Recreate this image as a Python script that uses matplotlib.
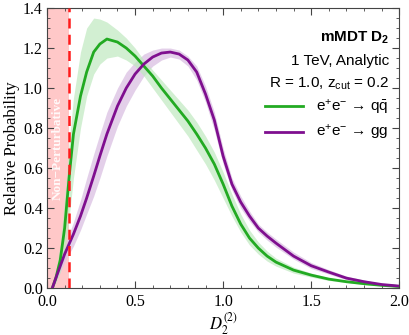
import numpy as np
import matplotlib
matplotlib.use("Agg")
import matplotlib.pyplot as plt
from matplotlib.ticker import MultipleLocator, FormatStrFormatter

plt.rcParams['mathtext.fontset'] = 'custom'
plt.rcParams['mathtext.rm'] = 'Liberation Sans'
plt.rcParams['mathtext.it'] = 'Liberation Sans:italic'
plt.rcParams['mathtext.bf'] = 'Liberation Sans:bold'

# data
x = [0.03, 0.05, 0.075, 0.1, 0.125, 0.15, 0.19, 0.225, 0.265, 0.3, 0.34, 0.4, 0.45,
     0.5, 0.55, 0.6, 0.65, 0.7, 0.75, 0.8, 0.85, 0.9, 0.95, 1.0, 1.05, 1.1, 1.15,
     1.2, 1.25, 1.3, 1.4, 1.5, 1.6, 1.7, 1.8, 1.9, 2.0]

qq_mid = [0.0, 0.05, 0.14, 0.3, 0.55, 0.77, 0.96, 1.08, 1.18, 1.22, 1.245, 1.23, 1.2,
          1.16, 1.11, 1.06, 1.0, 0.945, 0.89, 0.835, 0.77, 0.70, 0.62, 0.52, 0.41, 0.32, 0.25,
          0.2, 0.16, 0.13, 0.09, 0.065, 0.045, 0.032, 0.022, 0.014, 0.008]
qq_hi = [0.0, 0.08, 0.22, 0.45, 0.72, 0.95, 1.18, 1.3, 1.35, 1.345, 1.33, 1.29, 1.25,
         1.2, 1.14, 1.09, 1.04, 0.99, 0.94, 0.89, 0.83, 0.76, 0.68, 0.58, 0.47, 0.37, 0.29,
         0.23, 0.185, 0.15, 0.105, 0.075, 0.052, 0.037, 0.026, 0.017, 0.01]
qq_lo = [0.0, 0.03, 0.08, 0.18, 0.35, 0.55, 0.8, 0.96, 1.07, 1.12, 1.15, 1.16, 1.14,
         1.11, 1.06, 1.0, 0.94, 0.88, 0.82, 0.76, 0.69, 0.62, 0.54, 0.45, 0.36, 0.28, 0.215,
         0.17, 0.135, 0.11, 0.075, 0.055, 0.038, 0.027, 0.018, 0.011, 0.006]

gg_mid = [0.0, 0.05, 0.11, 0.17, 0.22, 0.27, 0.36, 0.45, 0.56, 0.66, 0.77, 0.91, 1.0,
          1.07, 1.12, 1.155, 1.175, 1.18, 1.17, 1.14, 1.08, 0.97, 0.84, 0.66, 0.52, 0.43, 0.36,
          0.3, 0.26, 0.225, 0.16, 0.112, 0.08, 0.05, 0.032, 0.018, 0.01]
gg_hi = [0.0, 0.07, 0.14, 0.21, 0.27, 0.33, 0.44, 0.55, 0.67, 0.77, 0.88, 1.0, 1.08,
         1.13, 1.17, 1.19, 1.2, 1.2, 1.19, 1.16, 1.11, 1.01, 0.88, 0.70, 0.55, 0.46, 0.385,
         0.32, 0.28, 0.245, 0.18, 0.128, 0.092, 0.06, 0.04, 0.023, 0.012]
gg_lo = [0.0, 0.03, 0.08, 0.13, 0.17, 0.21, 0.29, 0.37, 0.46, 0.55, 0.66, 0.81, 0.91,
         0.99, 1.06, 1.11, 1.14, 1.155, 1.145, 1.11, 1.04, 0.93, 0.79, 0.62, 0.49, 0.40, 0.335,
         0.28, 0.24, 0.205, 0.145, 0.098, 0.07, 0.042, 0.026, 0.014, 0.008]

np_cut = 0.125

green = '#22aa22'
purple = '#7f0f8f'

fig = plt.figure(figsize=(4.09, 3.35), dpi=100)
ax = fig.add_axes([0.115, 0.140, 0.861, 0.836])

ax.axvspan(0, np_cut, color='#ffc8c8', lw=0, zorder=0)
ax.axvline(np_cut, color='#ff1a1a', ls=(0, (4, 2.5)), lw=1.8, zorder=5)

ax.fill_between(x, gg_lo, gg_hi, color='#dcc4e4', lw=0, alpha=0.8, zorder=1)
ax.fill_between(x, qq_lo, qq_hi, color='#bfe9bf', lw=0, alpha=0.7, zorder=1)
ax.plot(x, qq_mid, color=green, lw=2, zorder=3, label='e$^{+}$e$^{-}$ \u2192 q$\\mathregular{\\bar{q}}$')
ax.plot(x, gg_mid, color=purple, lw=2, zorder=3, label='e$^{+}$e$^{-}$ \u2192 gg')

ax.text(0.062, 0.70, 'Non\u2212Perturbative', rotation=90, color='white', alpha=0.9,
        ha='center', va='center', family='Liberation Serif', fontsize=9.5, fontweight='bold',
        zorder=4)

ax.set_xlim(0, 2.0)
ax.set_ylim(0, 1.4)
ax.xaxis.set_major_locator(MultipleLocator(0.5))
ax.xaxis.set_minor_locator(MultipleLocator(0.1))
ax.yaxis.set_major_locator(MultipleLocator(0.2))
ax.yaxis.set_minor_locator(MultipleLocator(0.05))
ax.xaxis.set_major_formatter(FormatStrFormatter('%.1f'))
ax.yaxis.set_major_formatter(FormatStrFormatter('%.1f'))
ax.tick_params(which='both', direction='in', top=True, right=True, color='#444444')
ax.tick_params(which='major', length=5, labelsize=11.5)
ax.tick_params(axis='x', which='major', pad=4)
ax.tick_params(axis='y', which='major', pad=3)
ax.tick_params(which='minor', length=2.5)
for lab in ax.get_xticklabels() + ax.get_yticklabels():
    lab.set_family('Liberation Serif')
for s in ax.spines.values():
    s.set_color('#444444')

ax.set_ylabel('Relative Probability', family='Liberation Serif', fontsize=12, labelpad=2)
ax.set_xlabel(r'$D_2^{(2)}$', fontsize=12, math_fontfamily='stix', labelpad=0)

ax.text(0.972, 0.895, r'$\mathbf{mMDT\ D_2}$', transform=ax.transAxes, ha='right', va='center',
        fontsize=11, family='Liberation Sans')
ax.text(0.972, 0.812, '1 TeV, Analytic', transform=ax.transAxes, ha='right', va='center',
        fontsize=11, family='Liberation Sans')
ax.text(0.972, 0.73, r'R = 1.0, z$_{\mathregular{cut}}$ = 0.2', transform=ax.transAxes,
        ha='right', va='center', fontsize=11, family='Liberation Sans')
leg = ax.legend(loc='upper right', bbox_to_anchor=(0.985, 0.70), frameon=False,
                prop={'family': 'Liberation Sans', 'size': 11}, handlelength=2.5,
                handletextpad=0.8, labelspacing=0.4, borderaxespad=0)

fig.savefig('out.png', dpi=100)
